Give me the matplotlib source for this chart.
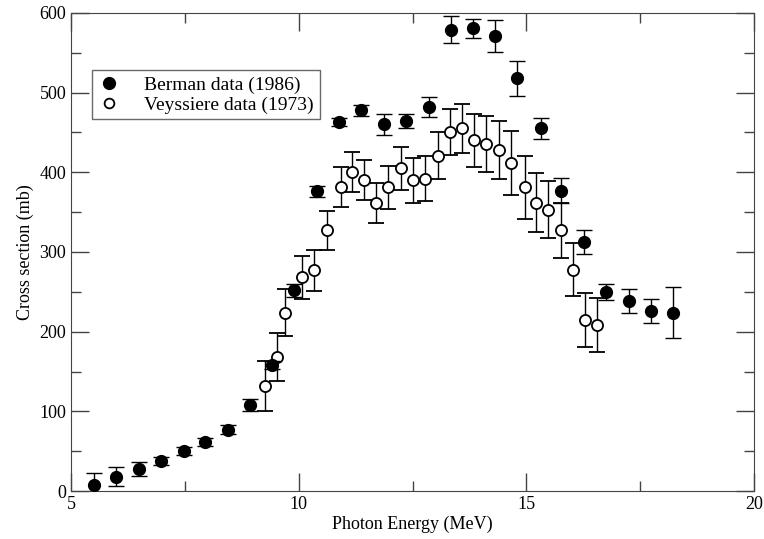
import numpy as np
import matplotlib.pyplot as plt
from matplotlib.ticker import MultipleLocator
from matplotlib.lines import Line2D

plt.rcParams['font.family'] = ['Liberation Serif', 'DejaVu Serif']

# Berman data (1986)
berman_e = [5.50, 5.98, 6.49, 6.97, 7.47, 7.95, 8.44, 8.92, 9.42, 9.90, 10.40,
            10.89, 11.37, 11.87, 12.35, 12.86, 13.34, 13.82, 14.32, 14.80,
            15.31, 15.77, 16.27, 16.75, 17.25, 17.73, 18.22]
berman_xs = [7, 18, 28, 38, 50, 61, 77, 108, 158, 252, 376,
             463, 478, 460, 464, 482, 579, 581, 571, 518,
             455, 377, 312, 250, 238, 226, 224]
berman_err = [16, 12, 9, 5, 5, 5, 6, 7, 5, 8, 7,
              5, 7, 13, 9, 12, 17, 12, 20, 22,
              13, 16, 15, 10, 15, 15, 32]

# Veyssiere data (1973)
veys_e = [9.27, 9.53, 9.70, 10.08, 10.34, 10.62, 10.93, 11.17, 11.43, 11.70,
          11.96, 12.24, 12.50, 12.77, 13.05, 13.32, 13.58, 13.86, 14.12,
          14.39, 14.67, 14.96, 15.22, 15.48, 15.77, 16.03, 16.29, 16.55]
veys_xs = [132, 168, 224, 268, 277, 327, 382, 400, 390, 361,
           381, 405, 390, 392, 421, 451, 455, 440, 436,
           428, 412, 381, 362, 353, 327, 278, 215, 208]
veys_err = [31, 30, 29, 27, 26, 24, 25, 25, 25, 25,
            27, 27, 28, 28, 29, 29, 31, 33, 35,
            37, 40, 39, 37, 36, 35, 33, 34, 34]

fig = plt.figure(figsize=(7.64, 5.39), dpi=100)
ax = fig.add_axes([0.093, 0.089, 0.894, 0.887])

ax.errorbar(veys_e, veys_xs, yerr=veys_err, fmt='o', ms=8, mfc='white',
            mec='black', mew=1.3, ecolor='black', elinewidth=1, capsize=6,
            capthick=1, zorder=2)
ax.errorbar(berman_e, berman_xs, yerr=berman_err, fmt='o', ms=8.5,
            mfc='black', mec='black', ecolor='black', elinewidth=1,
            capsize=6, capthick=1, zorder=3)

ax.set_xlim(5, 20)
ax.set_ylim(0, 600)
ax.xaxis.set_major_locator(MultipleLocator(5))
ax.xaxis.set_minor_locator(MultipleLocator(2.5))
ax.yaxis.set_major_locator(MultipleLocator(100))
ax.yaxis.set_minor_locator(MultipleLocator(50))
ax.tick_params(which='both', direction='in', top=True, right=True,
               labelsize=13, color='#444444')
ax.tick_params(which='major', length=13, width=1)
ax.tick_params(which='minor', length=7, width=1)
for s in ax.spines.values():
    s.set_color('#444444')

ax.set_xlabel('Photon Energy (MeV)', fontsize=13, labelpad=2)
ax.set_ylabel('Cross section (mb)', fontsize=13)

handles = [
    Line2D([], [], ls='none', marker='o', ms=8.5, mfc='black', mec='black'),
    Line2D([], [], ls='none', marker='o', ms=7, mfc='white', mec='black', mew=1.3),
]
labels = ['Berman data (1986)', 'Veyssiere data (1973)']
leg = ax.legend(handles, labels, loc='upper left',
                bbox_to_anchor=(0.022, 0.892), fontsize=14, frameon=True,
                fancybox=False, edgecolor='#444444', handletextpad=1.2,
                handlelength=1.2, borderpad=0.3, borderaxespad=0.3,
                labelspacing=0.1)
leg.get_frame().set_linewidth(1)

fig.savefig('out.png', dpi=100)
